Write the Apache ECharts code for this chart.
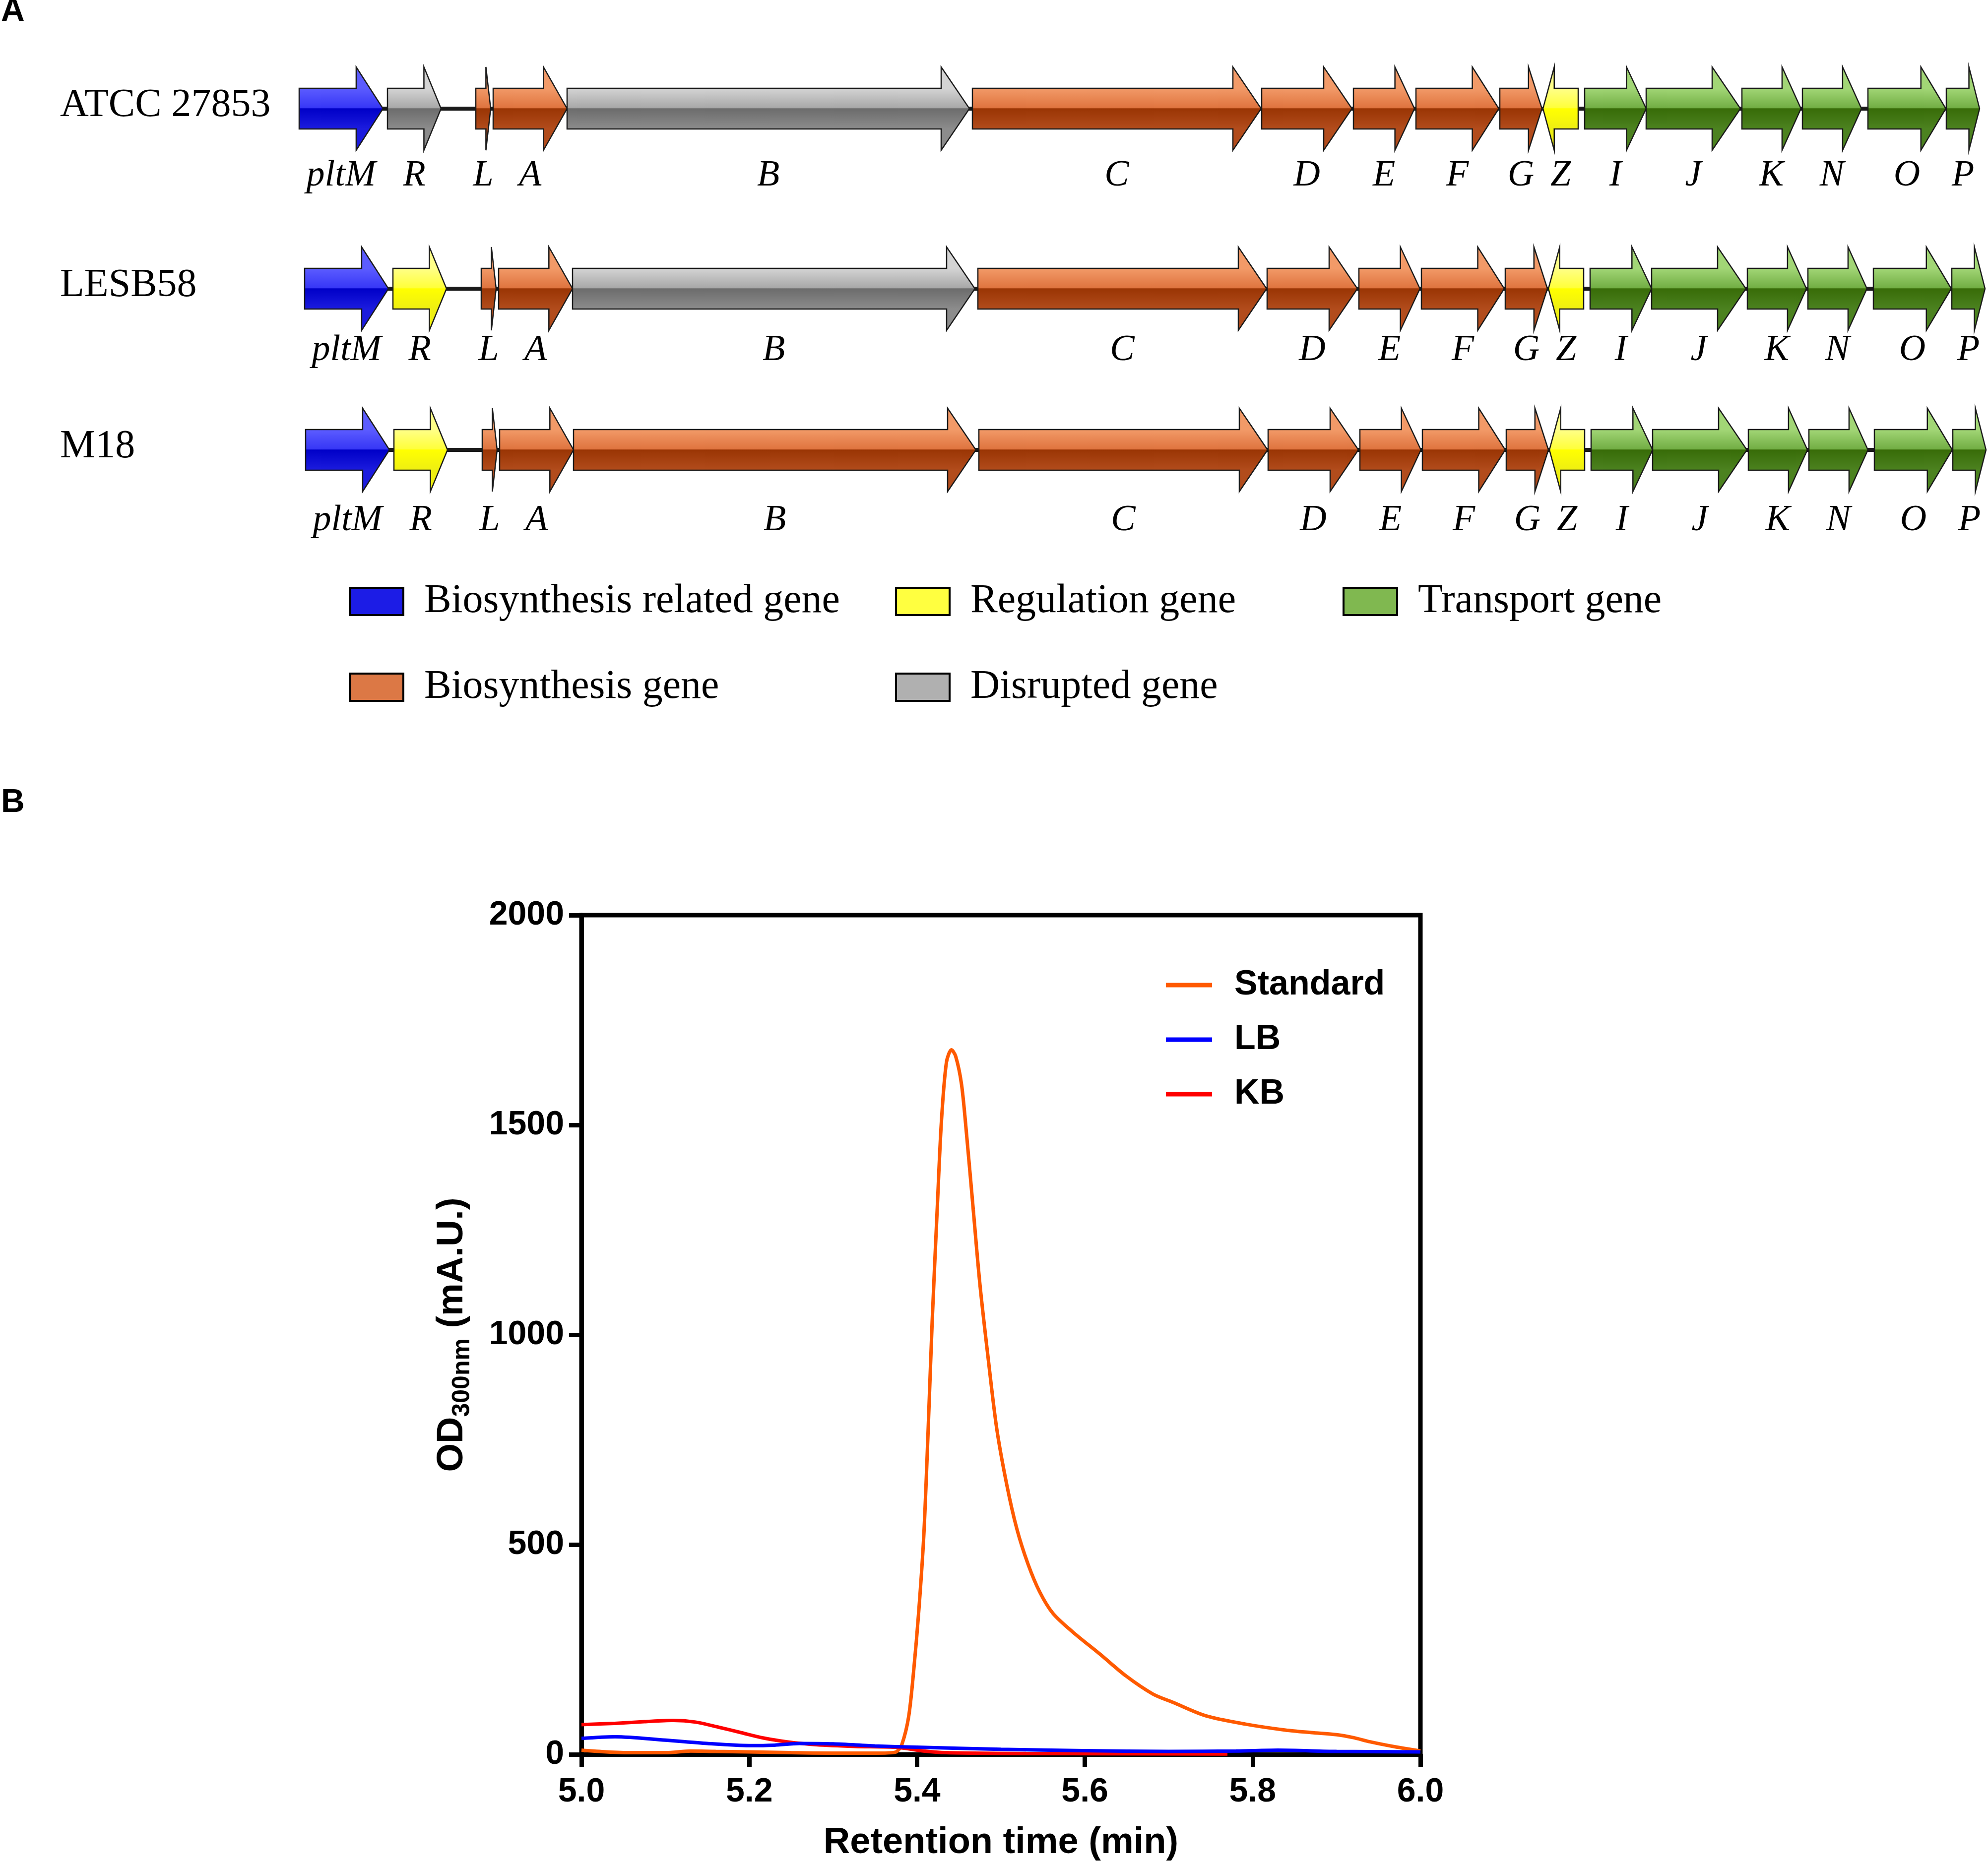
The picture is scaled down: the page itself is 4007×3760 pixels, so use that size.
<!DOCTYPE html>
<html><head><meta charset="utf-8">
<script src="https://cdn.jsdelivr.net/npm/echarts@6/dist/echarts.min.js"></script>
<style>html,body{margin:0;padding:0;background:#fff}#c{width:4007px;height:3760px}</style>
</head><body><div id="c"></div>
<script>
// ---------- Panel A data ----------
const strains = ['ATCC 27853', 'LESB58', 'M18'];
const genes = ['pltM','R','L','A','B','C','D','E','F','G','Z','I','J','K','N','O','P'];
const geneStartKb = [0, 1.78, 3.56, 3.91, 5.40, 13.57, 19.40, 21.25, 22.51, 24.20, 25.07, 25.91, 27.15, 29.08, 30.30, 31.62, 33.20];
const geneEndKb   = [1.69, 2.86, 3.86, 5.40, 13.51, 19.39, 21.22, 22.48, 24.18, 25.05, 25.78, 27.15, 29.05, 30.27, 31.49, 33.19, 33.87];
const geneStrand  = [1,1,1,1,1,1,1,1,1,1,-1,1,1,1,1,1,1];
const geneFunction = ['related','regulation','biosynthesis','biosynthesis','biosynthesis','biosynthesis','biosynthesis','biosynthesis','biosynthesis','biosynthesis','regulation','transport','transport','transport','transport','transport','transport'];
const disruptedGenes = [['R','B'], ['B'], []];
const strainOffsetKb = [0, 0.11, 0.13];
const legendA = [
  ['related', 'Biosynthesis related gene'],
  ['regulation', 'Regulation gene'],
  ['transport', 'Transport gene'],
  ['biosynthesis', 'Biosynthesis gene'],
  ['disrupted', 'Disrupted gene']
];

// ---------- Panel B data ----------
const seriesNames = ['Standard', 'LB', 'KB'];
const standardData = [[5.00,10],[5.03,6],[5.06,4],[5.10,4],[5.13,8],[5.16,7],[5.20,6],[5.25,4],[5.30,3],[5.35,3],[5.37,4],[5.376,7],[5.382,24],[5.39,90],[5.396,200],[5.402,340],[5.408,520],[5.413,761],[5.418,1030],[5.424,1298],[5.429,1507],[5.435,1649],[5.441,1679],[5.446,1664],[5.453,1597],[5.459,1478],[5.467,1298],[5.475,1119],[5.485,940],[5.495,776],[5.507,642],[5.519,537],[5.532,455],[5.546,388],[5.562,336],[5.586,291],[5.618,239],[5.649,187],[5.681,144],[5.705,124],[5.744,92],[5.792,72],[5.839,58],[5.87,52],[5.90,47],[5.92,40],[5.94,30],[5.97,18],[6.00,8]];
const lbData = [[5.00,38],[5.04,42],[5.10,34],[5.15,26],[5.20,21],[5.23,22],[5.26,26],[5.30,25],[5.35,20],[5.40,17],[5.50,12],[5.60,9],[5.70,7],[5.78,8],[5.83,10],[5.90,7],[6.00,6]];
const kbData = [[5.00,71],[5.04,74],[5.075,78],[5.109,81],[5.136,77],[5.163,65],[5.19,52],[5.217,39],[5.245,30],[5.28,23],[5.326,19],[5.374,17],[5.408,8],[5.435,4],[5.53,2],[5.77,1]];
const xTicks = {min: 5.0, max: 6.0, interval: 0.2};
const yTicks = {min: 0, max: 2000, interval: 500};

// ---------- styles ----------
const SANS = 'Liberation Sans', SERIF = 'Liberation Serif';
const palette = {
  related:      ['#5C5CFF','#3737F6','#0000C8','#1C1CDE'],
  regulation:   ['#FFFF88','#FFFF3A','#FFFF00','#EEEE12'],
  biosynthesis: ['#F29A68','#DF743F','#9A3504','#B24C1C'],
  transport:    ['#A2D676','#72AE44','#386C08','#4C8220'],
  disrupted:    ['#D4D4D4','#A8A8A8','#6C6C6C','#8C8C8C']
};
const legendFill = {related:'#1C1CE6', regulation:'#FFFF40', transport:'#80B850', biosynthesis:'#DC7845', disrupted:'#B0B0B0'};
const lineColors = ['#FF5A00', '#0000FF', '#FF0000'];
const ROW_NUDGE = [4, 21, 0];
const LABEL_DY = [136, 125, 143];
const BODY_HALF = 41, HEAD_HALF = 84, HEAD_MAX = 57, HEAD_FRAC = 0.32;

function grad(fn) {
  const c = palette[fn];
  return {type:'linear', x:0, y:0, x2:0, y2:1, colorStops:[
    {offset:0, color:c[0]}, {offset:0.26, color:c[0]}, {offset:0.49, color:c[1]},
    {offset:0.5, color:c[2]}, {offset:0.74, color:c[3]}, {offset:1, color:c[3]}]};
}
function functionOf(s, g) {
  return disruptedGenes[s].indexOf(genes[g]) >= 0 ? 'disrupted' : geneFunction[g];
}

const geneItems = [], backboneItems = [], strainItems = [];
strains.forEach((st, s) => {
  genes.forEach((gn, g) => geneItems.push([geneStartKb[g] + strainOffsetKb[s], geneEndKb[g] + strainOffsetKb[s], s, g]));
  backboneItems.push([Math.min(...geneStartKb) + strainOffsetKb[s], Math.max(...geneEndKb) + strainOffsetKb[s], s]);
  strainItems.push([0, s]);
});

function renderGene(params, api) {
  const s = api.value(2), g = api.value(3);
  const p0 = api.coord([api.value(0), s]);
  const p1 = api.coord([api.value(1), s]);
  const cy = p0[1] + ROW_NUDGE[s];
  const xa = p0[0], xb = p1[0];
  const head = Math.min(HEAD_MAX, HEAD_FRAC * (xb - xa));
  const bh = BODY_HALF, hh = HEAD_HALF;
  let pts;
  if (geneStrand[g] > 0) pts = [[xa,cy-bh],[xb-head,cy-bh],[xb-head,cy-hh],[xb,cy],[xb-head,cy+hh],[xb-head,cy+bh],[xa,cy+bh]];
  else pts = [[xb,cy-bh],[xa+head,cy-bh],[xa+head,cy-hh],[xa,cy],[xa+head,cy+hh],[xa+head,cy+bh],[xb,cy+bh]];
  return {type:'group', children:[
    {type:'polygon', shape:{points:pts}, style:{fill:grad(functionOf(s,g)), stroke:'#1a1a1a', lineWidth:2.5}},
    {type:'text', style:{text:genes[g], x:(xa+xb)/2, y:cy+LABEL_DY[s], align:'center', verticalAlign:'middle',
      fontSize:74, fontStyle:'italic', fontFamily:SERIF, fill:'#000'}}
  ]};
}
function renderBackbone(params, api) {
  const s = api.value(2);
  const p0 = api.coord([api.value(0), s]);
  const p1 = api.coord([api.value(1), s]);
  const cy = p0[1] + ROW_NUDGE[s];
  return {type:'line', shape:{x1:p0[0], y1:cy, x2:p1[0], y2:cy}, style:{stroke:'#1a1a1a', lineWidth:8}};
}
function renderStrain(params, api) {
  const s = api.value(1);
  const p = api.coord([0, s]);
  return {type:'text', style:{text:strains[s], x:p[0]-482, y:p[1]+ROW_NUDGE[s]-6, align:'left', verticalAlign:'middle',
    fontSize:80, fontFamily:SERIF, fill:'#000'}};
}

// legend graphics for panel A
const legendCols = [705, 1806, 2708];
const legendRows = [1212, 1385];
const graphics = [
  {type:'text', x:2, y:-9, style:{text:'A', fontSize:66, fontWeight:'bold', fontFamily:SANS, fill:'#000', align:'left', verticalAlign:'top'}},
  {type:'text', x:2, y:1586, style:{text:'B', fontSize:66, fontWeight:'bold', fontFamily:SANS, fill:'#000', align:'left', verticalAlign:'top'}}
];
legendA.forEach((it, i) => {
  const col = i < 3 ? i : i - 3, row = i < 3 ? 0 : 1;
  const x = legendCols[col], y = legendRows[row];
  graphics.push({type:'rect', shape:{x:x, y:y-27, width:108, height:55}, style:{fill:legendFill[it[0]], stroke:'#000', lineWidth:4}});
  graphics.push({type:'text', x:x+150, y:y, style:{text:it[1], fontSize:82, fontFamily:SERIF, fill:'#000', align:'left', verticalAlign:'middle'}});
});

const axisCommon = {
  axisLine:{show:true, lineStyle:{color:'#000', width:9}},
  axisTick:{show:true, length:25, lineStyle:{color:'#000', width:9}},
  splitLine:{show:false}
};
const labelFont = {fontSize:68, fontWeight:'bold', fontFamily:SANS, color:'#000'};

const chart = echarts.init(document.getElementById('c'), null, {renderer:'canvas'});
chart.setOption({
  animation:false,
  backgroundColor:'#fff',
  graphic: graphics,
  grid:[
    {left:1172, top:1845, width:1691, height:1692, show:true, borderColor:'#000', borderWidth:9, backgroundColor:'transparent'},
    {left:603, top:42, width:3400, height:1038, show:false}
  ],
  xAxis:[
    Object.assign({gridIndex:0, type:'value', min:xTicks.min, max:xTicks.max, interval:xTicks.interval,
      axisLabel:Object.assign({margin:42, formatter:v => v.toFixed(1)}, labelFont),
      name:'Retention time (min)', nameLocation:'middle', nameGap:142,
      nameTextStyle:{fontSize:74, fontWeight:'bold', fontFamily:SANS, color:'#000'}}, axisCommon),
    {gridIndex:1, type:'value', min:0, max:34, show:false}
  ],
  yAxis:[
    Object.assign({gridIndex:0, type:'value', min:yTicks.min, max:yTicks.max, interval:yTicks.interval,
      axisLabel:Object.assign({margin:35, formatter:v => String(v)}, labelFont),
      name:'{a|OD}{b|300nm}{a| (mA.U.)}', nameLocation:'middle', nameGap:215,
      nameTextStyle:{rich:{
        a:{fontSize:74, fontWeight:'bold', fontFamily:SANS, color:'#000', lineHeight:90},
        b:{fontSize:50, fontWeight:'bold', fontFamily:SANS, color:'#000', lineHeight:40, verticalAlign:'bottom'}
      }}}, axisCommon),
    {gridIndex:1, type:'category', data:strains, inverse:true, show:false}
  ],
  legend:{data:seriesNames, orient:'vertical', left:2345, top:1946, icon:'rect', itemWidth:93, itemHeight:9, itemGap:40,
    textStyle:{fontSize:70, fontWeight:'bold', fontFamily:SANS, color:'#000', padding:[0,0,0,40], lineHeight:70}},
  series:[
    {name:'Standard', type:'line', xAxisIndex:0, yAxisIndex:0, data:standardData, smooth:0.3, symbol:'none', lineStyle:{color:lineColors[0], width:7}, itemStyle:{color:lineColors[0]}, z:3},
    {name:'KB', type:'line', xAxisIndex:0, yAxisIndex:0, data:kbData, smooth:0.3, symbol:'none', lineStyle:{color:lineColors[2], width:7}, itemStyle:{color:lineColors[2]}, z:4},
    {name:'LB', type:'line', xAxisIndex:0, yAxisIndex:0, data:lbData, smooth:0.3, symbol:'none', lineStyle:{color:lineColors[1], width:7}, itemStyle:{color:lineColors[1]}, z:5},
    {type:'custom', xAxisIndex:1, yAxisIndex:1, data:backboneItems, renderItem:renderBackbone, clip:false, silent:true, z:1},
    {type:'custom', xAxisIndex:1, yAxisIndex:1, data:geneItems, renderItem:renderGene, clip:false, silent:true, z:2},
    {type:'custom', xAxisIndex:1, yAxisIndex:1, data:strainItems, renderItem:renderStrain, clip:false, silent:true, z:2}
  ]
});
</script></body></html>
